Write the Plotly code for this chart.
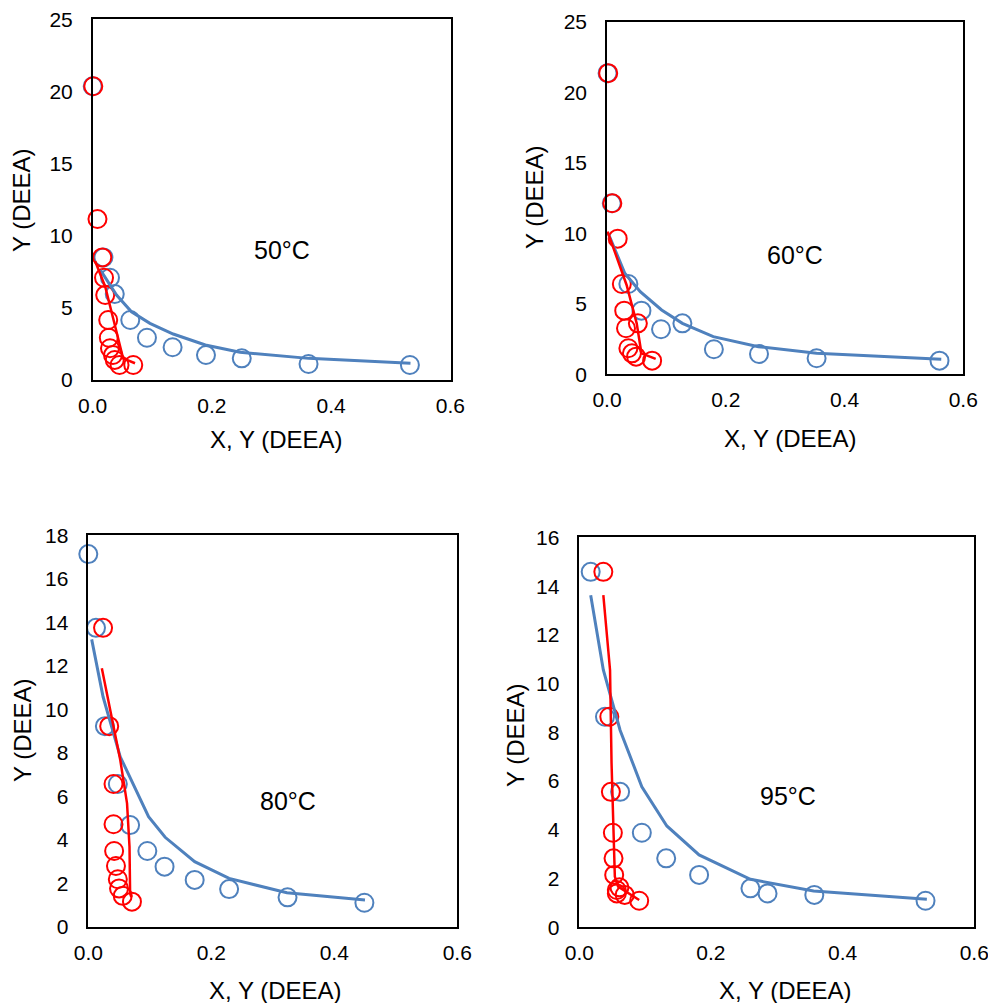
import plotly.graph_objects as go

# ---------------- data ----------------
# Panel 1: 50 °C
p1_blue_x = [0.000, 0.018, 0.029, 0.037, 0.063, 0.091, 0.134, 0.190, 0.250, 0.362, 0.532]
p1_blue_y = [20.37, 8.50, 7.09, 5.96, 4.16, 2.93, 2.27, 1.73, 1.50, 1.11, 1.04]
p1_red_x = [0.001, 0.008, 0.016, 0.019, 0.021, 0.026, 0.027, 0.029, 0.034, 0.037, 0.045, 0.068]
p1_red_y = [20.37, 11.16, 8.50, 7.09, 5.89, 4.16, 2.93, 2.20, 1.73, 1.39, 1.04, 1.04]
p1_bline_x = [0.013, 0.040, 0.065, 0.096, 0.135, 0.189, 0.247, 0.362, 0.533]
p1_bline_y = [7.62, 5.89, 4.73, 3.93, 3.19, 2.43, 1.92, 1.50, 1.16]
p1_rline_x = [0.004, 0.021, 0.035, 0.045, 0.051, 0.071]
p1_rline_y = [8.25, 6.47, 4.16, 2.54, 1.50, 1.16]

# Panel 2: 60 °C
p2_blue_x = [0.001, 0.008, 0.036, 0.058, 0.091, 0.127, 0.180, 0.256, 0.353, 0.560]
p2_blue_y = [21.38, 12.14, 6.41, 4.52, 3.20, 3.62, 1.78, 1.44, 1.14, 0.97]
p2_red_x = [0.002, 0.009, 0.018, 0.025, 0.029, 0.032, 0.052, 0.036, 0.042, 0.049, 0.076]
p2_red_y = [21.38, 12.14, 9.63, 6.41, 4.52, 3.27, 3.62, 1.85, 1.49, 1.25, 0.97]
p2_bline_x = [0.002, 0.030, 0.056, 0.092, 0.127, 0.179, 0.255, 0.353, 0.563]
p2_bline_y = [10.01, 7.17, 5.87, 4.57, 3.62, 2.67, 1.96, 1.49, 1.06]
p2_rline_x = [0.001, 0.033, 0.050, 0.058, 0.082]
p2_rline_y = [10.13, 6.34, 3.62, 1.49, 1.09]

# Panel 3: 80 °C
p3_blue_x = [0.000, 0.0125, 0.027, 0.048, 0.068, 0.096, 0.124, 0.173, 0.229, 0.324, 0.449]
p3_blue_y = [17.13, 13.74, 9.22, 6.56, 4.67, 3.48, 2.76, 2.15, 1.73, 1.35, 1.10]
p3_red_x = [0.024, 0.034, 0.041, 0.041, 0.042, 0.045, 0.048, 0.050, 0.056, 0.071]
p3_red_y = [13.74, 9.22, 6.56, 4.71, 3.48, 2.79, 2.18, 1.76, 1.42, 1.15]
p3_bline_x = [0.0055, 0.024, 0.052, 0.098, 0.125, 0.173, 0.229, 0.323, 0.450]
p3_bline_y = [13.21, 10.57, 7.81, 5.06, 4.11, 2.99, 2.22, 1.56, 1.23]
p3_rline_x = [0.022, 0.052, 0.063, 0.067, 0.068, 0.070]
p3_rline_y = [11.88, 7.66, 5.67, 3.68, 1.53, 1.36]

# Panel 4: 95 °C
p4_blue_x = [0.0173, 0.039, 0.062, 0.095, 0.132, 0.182, 0.260, 0.286, 0.357, 0.526]
p4_blue_y = [14.59, 8.64, 5.56, 3.88, 2.83, 2.15, 1.60, 1.39, 1.33, 1.09]
p4_red_x = [0.0365, 0.0456, 0.048, 0.051, 0.052, 0.053, 0.057, 0.057, 0.061, 0.069, 0.091]
p4_red_y = [14.59, 8.64, 5.56, 3.88, 2.83, 2.15, 1.53, 1.39, 1.64, 1.33, 1.09]
p4_bline_x = [0.0173, 0.0365, 0.062, 0.095, 0.133, 0.182, 0.260, 0.356, 0.528]
p4_bline_y = [13.63, 10.56, 8.09, 5.77, 4.16, 2.97, 1.97, 1.49, 1.15]
p4_rline_x = [0.0365, 0.0467, 0.049, 0.052, 0.054, 0.059, 0.091]
p4_rline_y = [13.63, 10.56, 6.73, 3.99, 2.08, 1.67, 1.12]

temps = ["50°C", "60°C", "80°C", "95°C"]
y_max = [25, 25, 18, 16]
y_dtick = [5, 5, 2, 2]
x_ticks = [0.0, 0.2, 0.4, 0.6]
x_title = "X, Y (DEEA)"
y_title = "Y (DEEA)"

panels = [
    (p1_blue_x, p1_blue_y, p1_red_x, p1_red_y, p1_bline_x, p1_bline_y, p1_rline_x, p1_rline_y),
    (p2_blue_x, p2_blue_y, p2_red_x, p2_red_y, p2_bline_x, p2_bline_y, p2_rline_x, p2_rline_y),
    (p3_blue_x, p3_blue_y, p3_red_x, p3_red_y, p3_bline_x, p3_bline_y, p3_rline_x, p3_rline_y),
    (p4_blue_x, p4_blue_y, p4_red_x, p4_red_y, p4_bline_x, p4_bline_y, p4_rline_x, p4_rline_y),
]

# ---------------- layout geometry (page pixels) ----------------
W, H = 988, 1003
boxes = [  # left, right, top, bottom
    (92.7, 450.5, 19.3, 380.0),
    (607.0, 963.3, 22.0, 374.3),
    (88.3, 457.3, 535.0, 926.7),
    (579.3, 974.3, 537.3, 927.3),
]
label_pos = [(0.318, 9.0), (0.316, 8.5), (0.325, 5.8), (0.317, 5.4)]
xtitle_px = [(276, 440), (790, 438), (275, 990), (785, 990)]
ytitle_px = [(22, 200), (535, 197), (22, 730), (515, 735)]


def fx(px):
    return px / W


def fy(py):
    return 1 - py / H


BLUE = "#4F81BD"
RED = "#FF0000"
FONT = "Liberation Sans, Arial, sans-serif"

fig = go.Figure()
layout = dict(
    width=W, height=H,
    margin=dict(l=0, r=0, t=0, b=0, autoexpand=False),
    paper_bgcolor="white", plot_bgcolor="white",
    showlegend=False,
    font=dict(family=FONT, color="black", size=21),
)
annotations = []

for i, (bx, by, rx, ry, blx, bly, rlx, rly) in enumerate(panels):
    n = "" if i == 0 else str(i + 1)
    xa, ya = "x" + n, "y" + n
    common = dict(xaxis=xa, yaxis=ya, showlegend=False, cliponaxis=False)
    fig.add_trace(go.Scatter(x=bx, y=by, mode="markers",
                             marker=dict(symbol="circle-open", size=18, color=BLUE,
                                         line=dict(width=2, color=BLUE)), **common))
    fig.add_trace(go.Scatter(x=rx, y=ry, mode="markers",
                             marker=dict(symbol="circle-open", size=18, color=RED,
                                         line=dict(width=2, color=RED)), **common))
    fig.add_trace(go.Scatter(x=blx, y=bly, mode="lines",
                             line=dict(color=BLUE, width=3), **common))
    fig.add_trace(go.Scatter(x=rlx, y=rly, mode="lines",
                             line=dict(color=RED, width=2.5), **common))

    l, r, t, b = boxes[i]
    yt = list(range(0, y_max[i] + 1, y_dtick[i]))
    layout["xaxis" + n] = dict(
        domain=[fx(l), fx(r)], anchor=ya, range=[0, 0.6001], automargin=False,
        tickvals=x_ticks, ticktext=[f"{v:.1f}" for v in x_ticks],
        ticklabeloverflow="allow",
        showgrid=False, zeroline=False, showline=True, mirror=True,
        linecolor="black", linewidth=1.5,
        ticks="outside", ticklen=6, tickcolor="rgba(0,0,0,0)",
        tickfont=dict(size=21, family=FONT),
    )
    layout["yaxis" + n] = dict(
        domain=[fy(b), fy(t)], anchor=xa, range=[0, y_max[i] * 1.0004], automargin=False,
        tickvals=yt, ticktext=[str(v) for v in yt],
        ticklabeloverflow="allow",
        showgrid=False, zeroline=False, showline=True, mirror=True,
        linecolor="black", linewidth=1.5,
        ticks="outside", ticklen=14, tickcolor="rgba(0,0,0,0)",
        tickfont=dict(size=21, family=FONT),
    )
    annotations.append(dict(x=label_pos[i][0], y=label_pos[i][1], xref=xa, yref=ya,
                            text=temps[i], showarrow=False,
                            xanchor="center", yanchor="middle",
                            font=dict(size=25, family=FONT, color="black")))
    annotations.append(dict(x=fx(xtitle_px[i][0]), y=fy(xtitle_px[i][1]),
                            xref="paper", yref="paper", text=x_title, showarrow=False,
                            xanchor="center", yanchor="middle",
                            font=dict(size=24, family=FONT, color="black")))
    annotations.append(dict(x=fx(ytitle_px[i][0]), y=fy(ytitle_px[i][1]),
                            xref="paper", yref="paper", text=y_title, showarrow=False,
                            textangle=-90, xanchor="center", yanchor="middle",
                            font=dict(size=24, family=FONT, color="black")))

layout["annotations"] = annotations
fig.update_layout(**layout)
fig.write_html(
    "out.html",
    config={"displayModeBar": False},
    post_script="document.body.style.margin='0px';document.body.style.overflow='hidden';",
)
